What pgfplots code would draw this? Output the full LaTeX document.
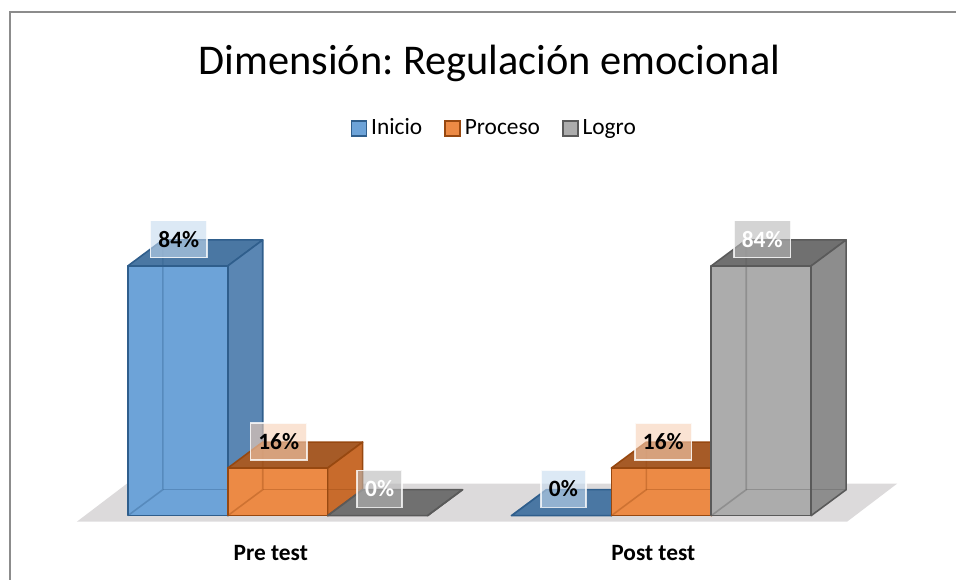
\documentclass[border=0pt]{standalone}
\usepackage{pgfplots}
\pgfplotsset{compat=1.18}
\usepackage{fontspec}
\setmainfont{Carlito}
\frenchspacing

\definecolor{blueFront}{HTML}{6DA3D8}
\definecolor{blueSide}{HTML}{5A86B3}
\definecolor{blueTop}{HTML}{4A77A3}
\definecolor{blueEdge}{HTML}{2F5E8C}
\definecolor{orFront}{HTML}{EC8A45}
\definecolor{orSide}{HTML}{C86B2C}
\definecolor{orTop}{HTML}{A65B27}
\definecolor{orEdge}{HTML}{974810}
\definecolor{grFront}{HTML}{ACACAC}
\definecolor{grSide}{HTML}{8D8D8D}
\definecolor{grTop}{HTML}{707070}
\definecolor{grEdge}{HTML}{5A5A5A}
\definecolor{floorGray}{HTML}{DCDADB}
\definecolor{frameGray}{HTML}{8C8C8C}

% 3-D bar from x position (px) and value (%): #1 x0, #2 value, #3 front, #4 side, #5 top, #6 edge
\newcommand{\barthreed}[6]{%
  \pgfmathsetmacro\xa{#1}%
  \pgfmathsetmacro\xb{#1+100}%
  \pgfmathsetmacro\xc{#1+35}%
  \pgfmathsetmacro\xd{#1+135}%
  \pgfmathsetmacro\yv{#2}%
  \pgfmathsetmacro\yw{#2+8.74}%
  \edef\tmp{%
    \noexpand\addplot[forget plot, mark=none, fill=#5, draw=#6, line width=0.8pt, line join=round]
      coordinates {(\xa,\yv) (\xb,\yv) (\xd,\yw) (\xc,\yw)} -- cycle;
    \noexpand\addplot[forget plot, mark=none, fill=#4, draw=#6, line width=0.8pt, line join=round]
      coordinates {(\xb,0) (\xd,8.74) (\xd,\yw) (\xb,\yv)} -- cycle;
    \noexpand\addplot[forget plot, mark=none, fill=#3, draw=none]
      coordinates {(\xa,0) (\xb,0) (\xb,\yv) (\xa,\yv)} -- cycle;
    \noexpand\addplot[forget plot, mark=none, draw=#6, draw opacity=0.35, line width=0.8pt]
      coordinates {(\xa,0) (\xc,8.74) (\xc,\yw)};
    \noexpand\addplot[forget plot, mark=none, draw=#6, draw opacity=0.35, line width=0.8pt]
      coordinates {(\xc,8.74) (\xd,8.74)};
    \noexpand\addplot[forget plot, mark=none, draw=#6, line width=0.8pt, line join=round]
      coordinates {(\xa,0) (\xb,0) (\xb,\yv) (\xa,\yv)} -- cycle;
  }\tmp}

\begin{document}
\begin{tikzpicture}
\begin{axis}[
  scale only axis,
  width=478.5pt, height=290pt,
  xmin=0, xmax=957,
  ymin=-21.505, ymax=173.387,
  axis line style={draw=none},
  major tick length=0pt,
  ytick=\empty,
  xtick={271,654},
  xticklabels={Pre test,Post test},
  xticklabel style={font=\bfseries\fontsize{11.7}{14}\selectfont, anchor=center, yshift=13.5pt},
  clip=false,
  title={Dimensión: Regulación emocional},
  title style={at={(0.512,0.8966)}, anchor=center, yshift=-7.5pt, font=\fontsize{21.2}{25}\selectfont},
  legend style={at={(0.518,0.779)}, anchor=center, draw=none, fill=none,
    font=\fontsize{11.7}{14}\selectfont,
    /tikz/every even column/.append style={column sep=9pt}},
  legend columns=3,
  legend image code/.code={\draw[#1, line width=0.8pt] (0pt,-3.75pt) rectangle (7.5pt,3.75pt);},
  labelbox/.style={nodes near coords, point meta=explicit symbolic,
    every node near coord/.append style={font=\bfseries\fontsize{11.7}{14}\selectfont,
      fill opacity=0.6, text opacity=1, draw=white, draw opacity=0.8,
      line width=0.8pt, inner xsep=4pt, inner ysep=0pt, minimum height=18.5pt, yshift=-9.25pt}},
]
\addlegendimage{fill=blueFront, draw=blueEdge}
\addlegendentry{Inicio}
\addlegendimage{fill=orFront, draw=orEdge}
\addlegendentry{Proceso}
\addlegendimage{fill=grFront, draw=grEdge}
\addlegendentry{Logro}

% floor
\addplot[forget plot, mark=none, fill=floorGray, draw=none]
  coordinates {(77,-2.02) (848,-2.02) (898,10.75) (127,10.75)} -- cycle;

% Pre test: Inicio 84, Proceso 16, Logro 0
\barthreed{128}{84}{blueFront}{blueSide}{blueTop}{blueEdge}
\barthreed{228}{16}{orFront}{orSide}{orTop}{orEdge}
\barthreed{328}{0}{grFront}{grSide}{grTop}{grEdge}
% Post test: Inicio 0, Proceso 16, Logro 84
\barthreed{512}{0}{blueFront}{blueSide}{blueTop}{blueEdge}
\barthreed{612}{16}{orFront}{orSide}{orTop}{orEdge}
\barthreed{712}{84}{grFront}{grSide}{grTop}{grEdge}

% data labels
\addplot[forget plot, only marks, mark=none, labelbox,
  every node near coord/.append style={text=black, fill=blueFront!40!white}]
  coordinates {(179,92.74) [84\%] (564,8.74) [0\%]};
\addplot[forget plot, only marks, mark=none, labelbox,
  every node near coord/.append style={text=black, fill=orFront!40!white}]
  coordinates {(279,24.74) [16\%] (664,24.74) [16\%]};
\addplot[forget plot, only marks, mark=none, labelbox,
  every node near coord/.append style={text=white, fill=grFront!85!white}]
  coordinates {(380,8.74) [0\%] (763,92.74) [84\%]};

% chart frame
\draw[frameGray, line width=1pt] (rel axis cs:0.01045,0) -- (rel axis cs:0.01045,0.97931) -- (rel axis cs:1,0.97931);
\path (rel axis cs:0,0) rectangle (rel axis cs:1,1);
\end{axis}
\end{tikzpicture}
\end{document}
